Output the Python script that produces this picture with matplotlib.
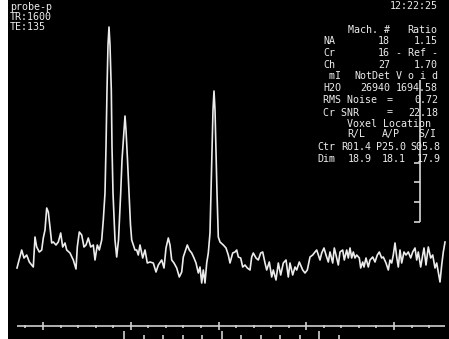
import matplotlib
matplotlib.use("Agg")
import matplotlib.pyplot as plt
import numpy as np

# spectrum trace: channel position and signal height
chan = [17, 18.3, 21.7, 24, 26.7, 29.3, 31.7, 33.3, 35, 36.7, 39.3, 41.7, 43.3, 45, 46.7, 48.3,
        50, 51.7, 53.3, 56, 58.3, 60.7, 62.7, 65, 66.7, 70, 73.3, 76, 77.3, 79.3, 81.7, 84, 86,
        88.3, 90.7, 93.3, 95, 97.3, 99.3, 101.7, 103.3, 105, 106, 107, 108, 109, 110, 111.3, 112,
        113, 115, 116.7, 118.5, 120.7, 122, 124, 125, 126, 127.5, 129, 130.5, 131.7, 133.3, 135,
        136.7, 138.3, 140, 142.7, 145, 147.3, 150,
        153.3, 156, 158.3, 161.7, 164, 166, 168.3, 170, 171.7, 174, 176.7, 179.3, 181.7, 183.3,
        185, 187.3, 189.3, 191.7, 194, 196, 198.3, 200, 201.7, 203.3, 205, 206.7, 208.3, 210, 211,
        212, 213, 214, 215, 216, 217, 218.3, 220, 223.3, 226, 228.3, 230, 232.7, 235, 236.7, 238.3,
        240.7, 242.7, 245, 247.3, 250, 251.7, 253.3, 256, 258.3, 260.7, 262.7, 265, 266.7, 269.3,
        271.7, 273.3, 276, 278.3, 280.7, 283.3, 286, 288.3, 290, 292.7, 295, 296.7, 299.3,
        302.7, 305, 307.3, 310, 312.7, 315, 316.7, 318.3, 320, 321.7, 324, 326, 328.3, 330, 332.7,
        334.3, 336, 338.3, 340, 342.7, 344.3, 346.7, 348.3, 350, 351.7, 353.3, 355, 356.7, 359.3,
        360.7, 362.7, 364, 366, 368.3, 370, 372.7, 375, 377.3, 379.3, 381.7, 383.3, 386, 388.3,
        390, 391.7, 393.3, 395, 396.7, 398.3, 400, 401.7, 404, 406, 408.3, 410.7, 412.7, 415,
        416.7, 418.3, 420.7, 422.7, 424, 426, 428.3, 430.7, 432.7, 435, 436.7, 438.3, 440, 441.7,
        443.3, 445]
signal = [12, 17, 30, 22, 25, 18, 15, 13, 43, 33, 28, 30, 42, 50, 72, 68, 53, 37, 38, 35,
          38, 47, 33, 37, 30, 27, 20, 11, 33, 48, 45, 33, 35, 42, 33, 35, 20, 35, 30, 40,
          60, 87, 133, 190, 235, 253, 235, 190, 133, 87, 40, 23, 40, 87, 120, 150, 164, 150, 120, 87,
          55, 40, 35, 30, 30, 25, 35, 22, 30, 17, 18,
          17, 8, 15, 20, 12, 32, 42, 35, 20, 17, 12, 3, 8, 23, 28, 35, 30, 27, 22, 17,
          7, 13, -3, 10, -3, 17, 27, 47, 87, 130, 170, 189, 170, 130, 87, 43, 38, 35, 32, 25,
          17, 27, 28, 30, 23, 22, 13, 15, 12, 10, 23, 27, 22, 20, 27, 28, 17, 10, 18, 3,
          10, 0, 17, 5, 17, 20, 3, 17, 5, 13, 10, 18,
          10, 7, 10, 23, 25, 28, 30, 25, 20, 27, 32, 25, 18, 28, 17, 32, 25, 15, 28, 30,
          20, 30, 22, 32, 22, 28, 22, 25, 22, 12, 18, 13, 22, 13, 20, 23, 18, 25, 28, 22,
          23, 17, 10, 20, 17, 25, 37, 23, 13, 30, 17, 28, 25, 28, 22, 28, 32, 20, 28, 13,
          25, 32, 15, 33, 22, 25, 12, 17, 8, -2, 15, 28, 38]

header = ["probe-p", "TR:1600", "TE:135"]
clock = "12:22:25"

metab = ["NA", "Cr", "Ch", " mI", "H2O"]
counts = ["18", "16", "27", "NotDet", "26940"]
ratios = ["1.15", "- Ref -", "1.70", "V o i d", "1694.58"]
rms_noise = "0.72"
cr_snr = "22.18"
vox_axes = ["R/L", "A/P", "S/I"]
vox_ctr = ["R01.4", "P25.0", "S05.8"]
vox_dim = ["18.9", "18.1", "17.9"]

W, H = 449, 339
FG = "#ececec"
MONO = "DejaVu Sans Mono"

fig = plt.figure(figsize=(W / 100, H / 100), dpi=100, facecolor="white")
ax = fig.add_axes([8 / W, 0, 1 - 8 / W, 1])
ax.set_facecolor("black")
ax.set_xlim(8, W)
ax.set_ylim(280 - H, 280)
ax.set_xticks([])
ax.set_yticks([])
for sp in ax.spines.values():
    sp.set_visible(False)

ax.plot(chan, signal, color=FG, lw=1.2)

# ppm ruler under the spectrum
ticks = 25.45 + 17.55 * np.arange(24)
ax.hlines(-46, 17, 445, color="#cfcfcf", lw=1.2)
for i, t in enumerate(ticks):
    if i % 5 == 1:
        ax.vlines(t, -50, -42, color="#cfcfcf", lw=1.2)
    else:
        ax.vlines(t, -47.5, -44.5, color="#cfcfcf", lw=1.2)

# second ruler at the bottom edge
ticks2 = 124 + 19.5 * np.arange(12)
for i, t in enumerate(ticks2):
    top = -51 if i % 5 == 0 else -55
    ax.vlines(t, -60, top, color="#cfcfcf", lw=1.2)

# vertical scale bar
ax.vlines(420, 58, 200, color="#d8d8d8", lw=1.2)
for yy in [117, 98, 78, 58]:
    ax.hlines(yy, 414, 420, color="#d8d8d8", lw=1.2)


def put(x, y, s, ha="left"):
    fig.text(x / W, 1 - y / H, s, ha=ha, va="center", color=FG,
             family=MONO, fontsize=7.2)


for i, s in enumerate(header):
    put(10, 6.5 + 10.5 * i, s)
put(438, 6, clock, ha="right")

put(390, 30, "Mach. #", ha="right")
put(437, 30, "Ratio", ha="right")
for i in range(len(metab)):
    yy = 41.5 + 11.6 * i
    put(323, yy, metab[i])
    put(390, yy, counts[i], ha="right")
    put(438, yy, ratios[i], ha="right")

put(323, 100, "RMS Noise")
put(393, 100, "=", ha="right")
put(438, 100, rms_noise, ha="right")
put(323, 112.5, "Cr SNR")
put(393, 112.5, "=", ha="right")
put(438, 112.5, cr_snr, ha="right")

put(347, 124, "Voxel Location")
for x, s in zip([347, 382, 418], vox_axes):
    put(x, 134.5, s)
put(317, 146.5, "Ctr")
for x, s in zip([341, 376, 410], vox_ctr):
    put(x, 146.5, s)
put(317, 159, "Dim")
for x, s in zip([348, 382, 417], vox_dim):
    put(x, 159, s)

fig.savefig("out.png", dpi=100, facecolor=fig.get_facecolor())
